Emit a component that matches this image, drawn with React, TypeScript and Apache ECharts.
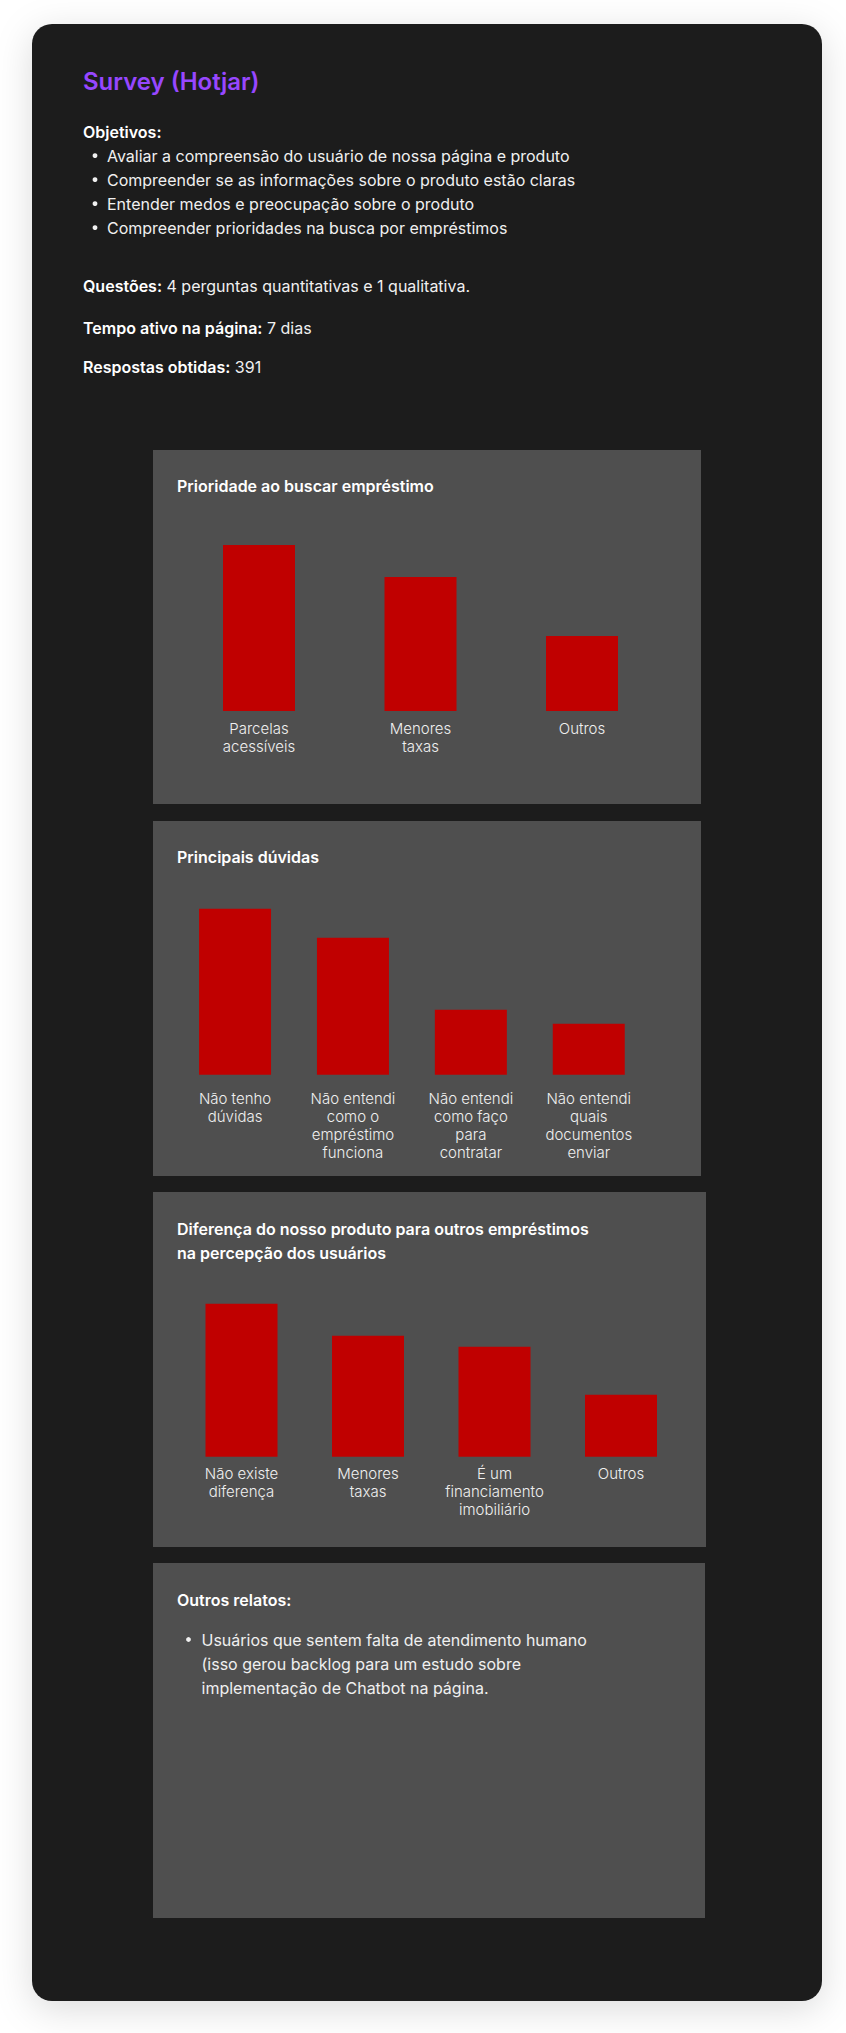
import React, { useEffect, useRef } from 'react';
import * as echarts from 'echarts';

// Survey answers (relative response volume per option)
const priorityCategories = ['Parcelas\nacessíveis', 'Menores\ntaxas', 'Outros'];
const priorityValues = [166, 134, 75];

const doubtCategories = [
  'Não tenho\ndúvidas',
  'Não entendi\ncomo o\nempréstimo\nfunciona',
  'Não entendi\ncomo faço\npara\ncontratar',
  'Não entendi\nquais\ndocumentos\nenviar',
];
const doubtValues = [166, 137, 65, 51];

const differenceCategories = [
  'Não existe\ndiferença',
  'Menores\ntaxas',
  'É um\nfinanciamento\nimobiliário',
  'Outros',
];
const differenceValues = [153, 121, 110, 62];

const objectives = [
  'Avaliar a compreensão do usuário de nossa página e produto',
  'Compreender se as informações sobre o produto estão claras',
  'Entender medos e preocupação sobre o produto',
  'Compreender prioridades na busca por empréstimos',
];

const otherReports = [
  'Usuários que sentem falta de atendimento humano',
  '(isso gerou backlog para um estudo sobre',
  'implementação de Chatbot na página.',
];

const FONT = 'Inter, "Noto Sans", sans-serif';
const CARD_BG = '#1f1f1f';
const PANEL_BG = '#4f4f4f';
const BAR_COLOR = '#c00000';
const TEXT = '#ffffff';
const SOFT_TEXT = '#f0f0f0';

function text(x: number, y: number, str: string, size: number, weight: number | string, fill = TEXT) {
  return {
    type: 'text',
    x,
    y,
    silent: true,
    style: {
      text: str,
      fill,
      fontSize: size,
      fontWeight: weight,
      fontFamily: FONT,
      verticalAlign: 'middle',
      align: 'left',
    },
  };
}

function richLine(x: number, y: number, bold: string, rest: string) {
  return {
    type: 'text',
    x,
    y,
    silent: true,
    style: {
      text: `{b|${bold}}{r| ${rest}}`,
      verticalAlign: 'middle',
      align: 'left',
      fontFamily: FONT,
      fontSize: 16,
      fill: TEXT,
      rich: {
        b: { fontFamily: FONT, fontSize: 16, fontWeight: 600, fill: TEXT },
        r: { fontFamily: FONT, fontSize: 16, fontWeight: 400, fill: SOFT_TEXT },
      },
    },
  };
}

function dot(cx: number, cy: number, fill = SOFT_TEXT) {
  return { type: 'circle', silent: true, shape: { cx, cy, r: 2.4 }, style: { fill } };
}

function panel(x: number, y: number, width: number, height: number) {
  return { type: 'rect', silent: true, shape: { x, y, width, height }, style: { fill: PANEL_BG } };
}

function buildOption() {
  const graphics: any[] = [
    {
      type: 'rect',
      silent: true,
      shape: { x: 32, y: 24, width: 790, height: 1977, r: 20 },
      style: {
        fill: CARD_BG,
        shadowBlur: 36,
        shadowColor: 'rgba(0,0,0,0.14)',
        shadowOffsetY: 8,
      },
    },
    text(83, 81.5, 'Survey (Hotjar)', 24, 600, '#9747ff'),
    text(83, 131.5, 'Objetivos:', 16, 600),
  ];

  objectives.forEach((line, i) => {
    const y = 155.7 + i * 24;
    graphics.push(dot(95, y));
    graphics.push(text(107, y, line, 16, 400, SOFT_TEXT));
  });

  graphics.push(richLine(83, 286, 'Questões:', '4 perguntas quantitativas e 1 qualitativa.'));
  graphics.push(richLine(83, 327.5, 'Tempo ativo na página:', '7 dias'));
  graphics.push(richLine(83, 366.5, 'Respostas obtidas:', '391'));

  graphics.push(panel(153, 450, 548, 354));
  graphics.push(text(177, 486.3, 'Prioridade ao buscar empréstimo', 16, 600));

  graphics.push(panel(153, 821, 548, 355));
  graphics.push(text(177, 857.3, 'Principais dúvidas', 16, 600));

  graphics.push(panel(153, 1192, 553, 355));
  graphics.push(text(177, 1228.8, 'Diferença do nosso produto para outros empréstimos', 16, 600));
  graphics.push(text(177, 1252.7, 'na percepção dos usuários', 16, 600));

  graphics.push(panel(153, 1563, 552, 355));
  graphics.push(text(177, 1599.5, 'Outros relatos:', 16, 600));
  otherReports.forEach((line, i) => {
    const y = 1639.5 + i * 24;
    if (i === 0) graphics.push(dot(188.5, y));
    graphics.push(text(201.5, y, line, 16, 400, SOFT_TEXT));
  });

  const categoryAxis = (gridIndex: number, data: string[], margin: number) => ({
    type: 'category',
    gridIndex,
    data,
    boundaryGap: true,
    axisLine: { show: false },
    axisTick: { show: false },
    splitLine: { show: false },
    axisLabel: {
      interval: 0,
      margin,
      color: SOFT_TEXT,
      fontFamily: FONT,
      fontSize: 15,
      fontWeight: 300,
      lineHeight: 18,
      align: 'center',
    },
  });

  const valueAxis = (gridIndex: number) => ({
    type: 'value',
    gridIndex,
    min: 0,
    max: 200,
    show: false,
    splitLine: { show: false },
  });

  const barSeries = (index: number, data: number[]) => ({
    type: 'bar',
    xAxisIndex: index,
    yAxisIndex: index,
    data,
    barWidth: 72,
    silent: true,
    itemStyle: { color: BAR_COLOR },
  });

  return {
    animation: false,
    backgroundColor: '#ffffff',
    graphic: { elements: graphics },
    grid: [
      { left: 178.25, top: 511, width: 484.5, height: 200, containLabel: false },
      { left: 176.1, top: 874.7, width: 471.6, height: 200, containLabel: false },
      { left: 178.25, top: 1256.7, width: 506, height: 200, containLabel: false },
    ],
    xAxis: [
      categoryAxis(0, priorityCategories, 8),
      categoryAxis(1, doubtCategories, 15),
      categoryAxis(2, differenceCategories, 8),
    ],
    yAxis: [valueAxis(0), valueAxis(1), valueAxis(2)],
    series: [
      barSeries(0, priorityValues),
      barSeries(1, doubtValues),
      barSeries(2, differenceValues),
    ],
  };
}

export default function App() {
  const ref = useRef<HTMLDivElement>(null);

  useEffect(() => {
    if (!ref.current) return;
    const chart = echarts.init(ref.current, undefined, { renderer: 'svg' });
    chart.setOption(buildOption() as any);
    return () => chart.dispose();
  }, []);

  return (
    <div
      ref={ref}
      style={{ position: 'absolute', left: 0, top: 0, width: 846, height: 2033, background: '#ffffff' }}
    />
  );
}
